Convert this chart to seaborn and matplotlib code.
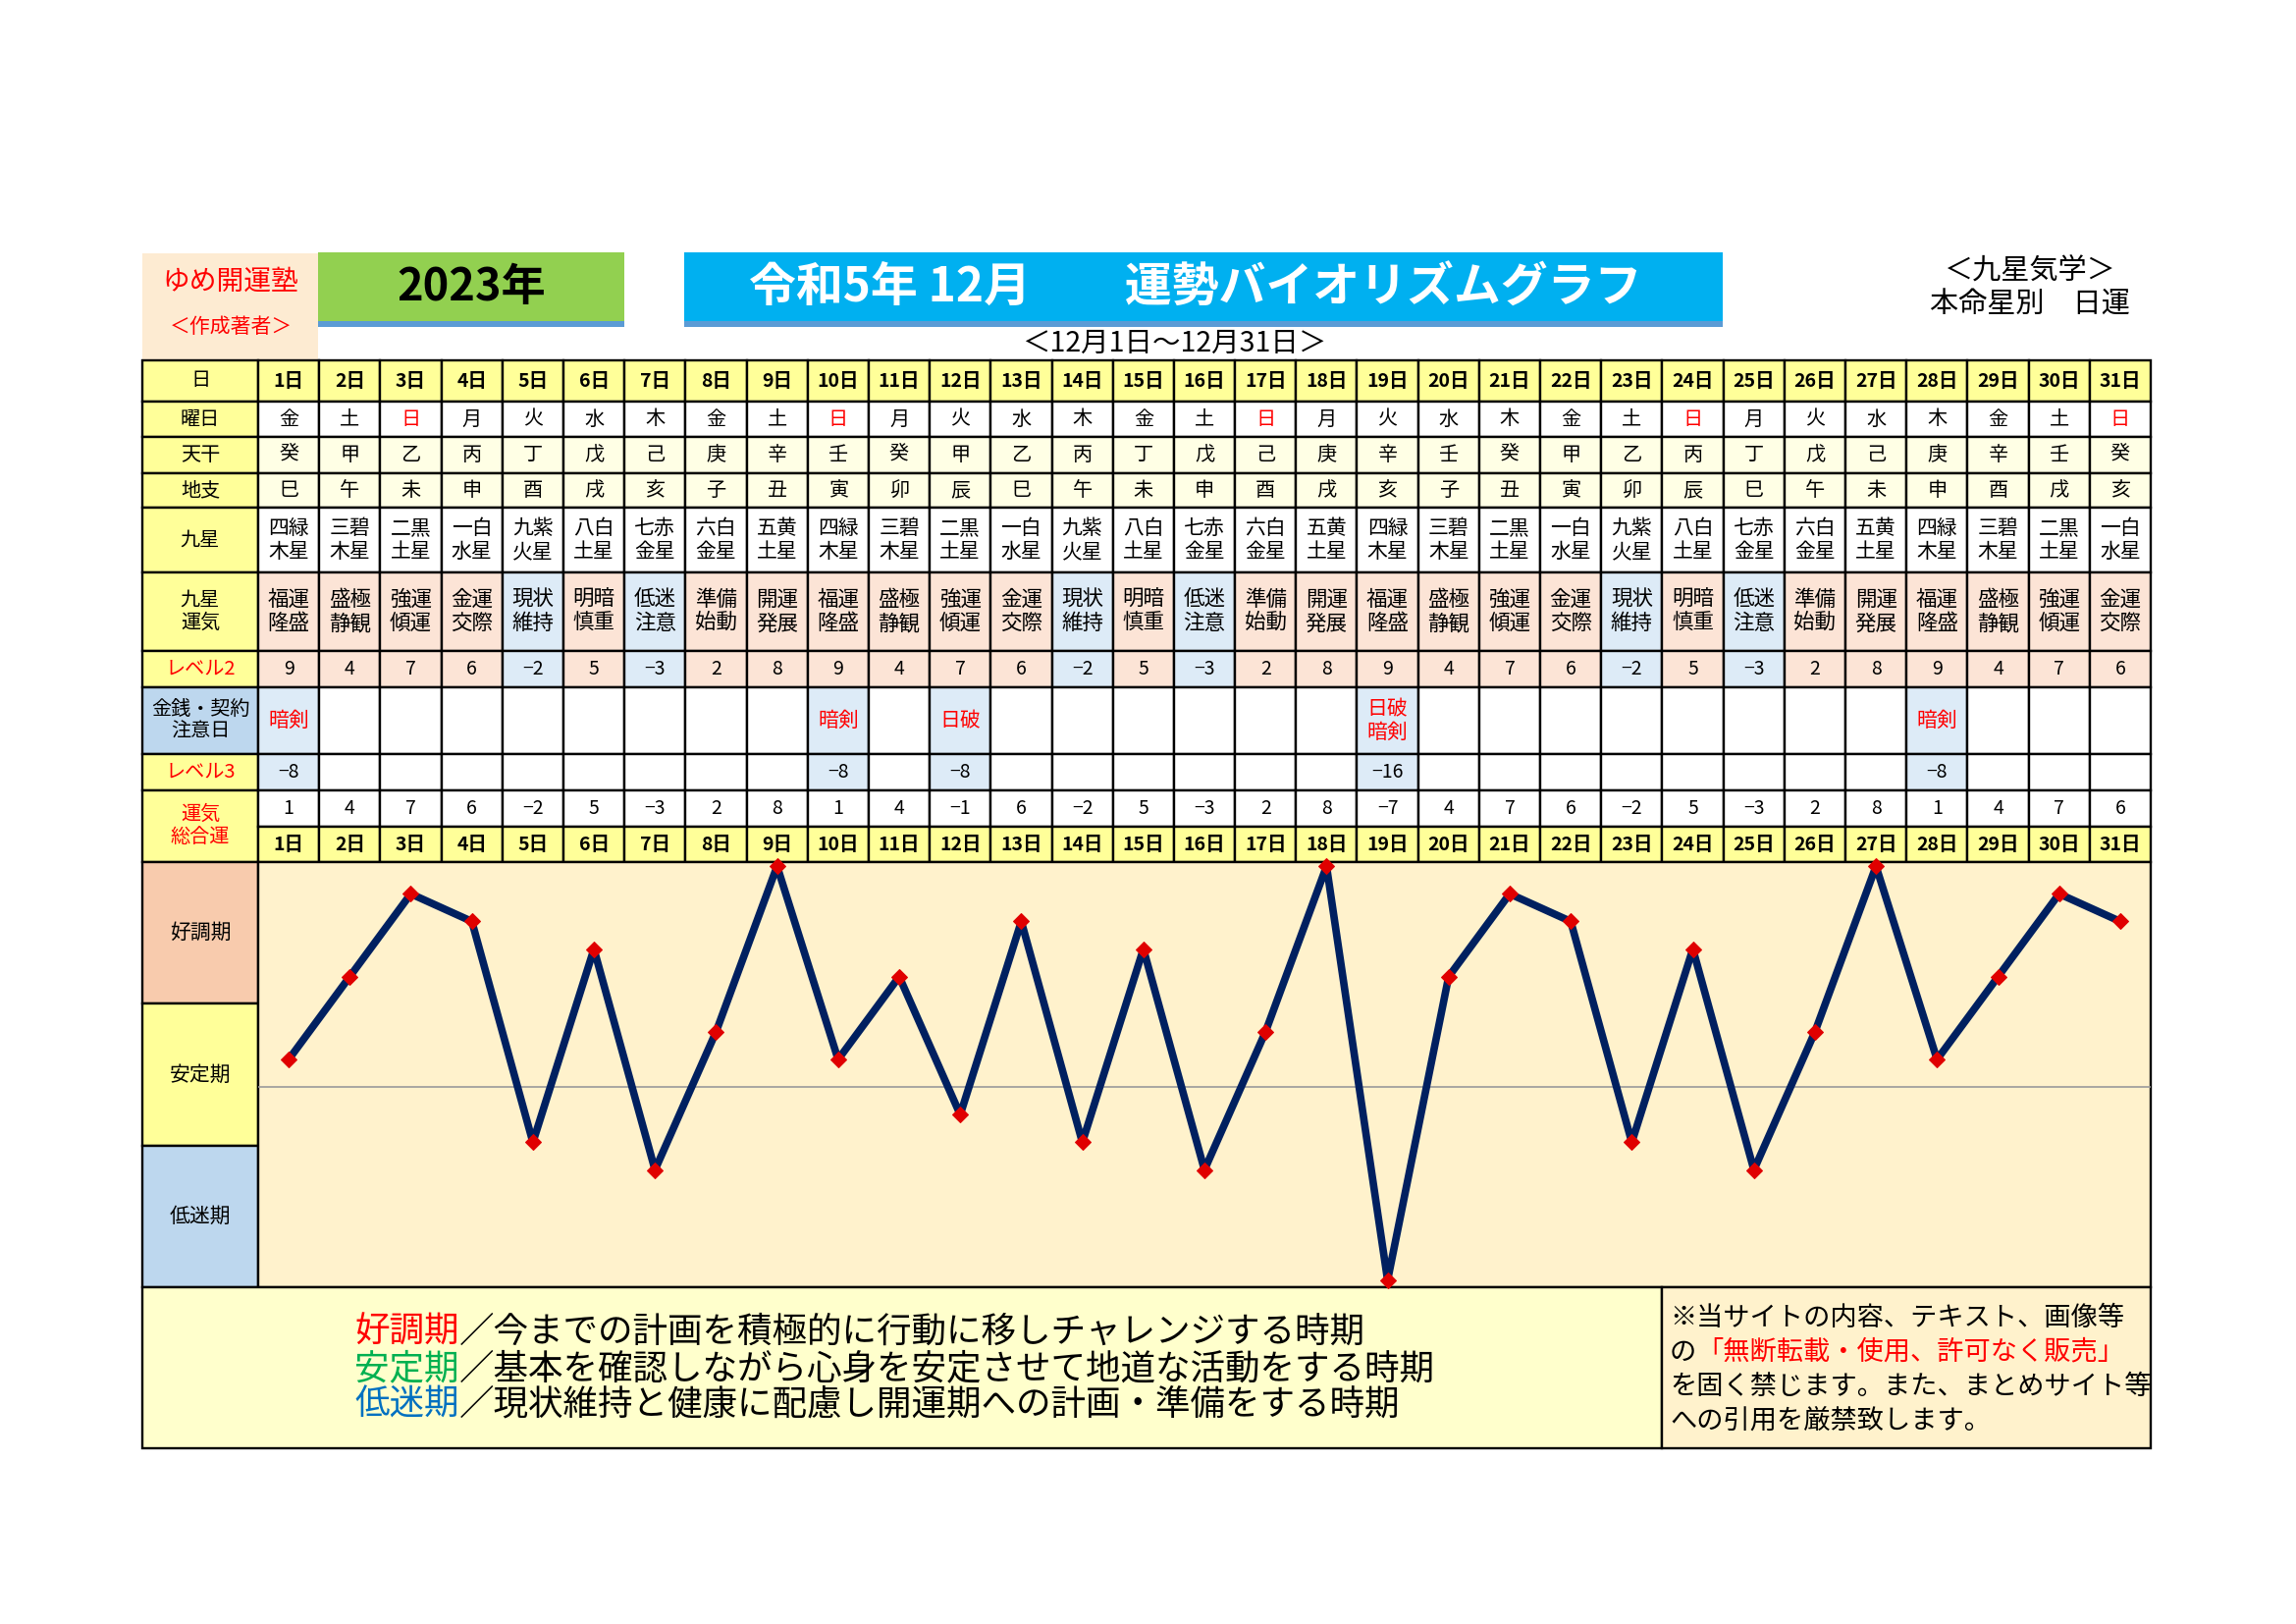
import matplotlib
matplotlib.use("Agg")
import matplotlib.pyplot as plt
import seaborn as sns
import pandas as pd
from matplotlib.patches import Rectangle

# ---- data ----
days = list(range(1, 32))
day_labels = [f"{d}日" for d in days]
weekdays = ["金", "土", "日", "月", "火", "水", "木", "金", "土", "日", "月", "火", "水", "木", "金", "土",
            "日", "月", "火", "水", "木", "金", "土", "日", "月", "火", "水", "木", "金", "土", "日"]
tenkan = ["癸", "甲", "乙", "丙", "丁", "戊", "己", "庚", "辛", "壬", "癸", "甲", "乙", "丙", "丁", "戊",
          "己", "庚", "辛", "壬", "癸", "甲", "乙", "丙", "丁", "戊", "己", "庚", "辛", "壬", "癸"]
chishi = ["巳", "午", "未", "申", "酉", "戌", "亥", "子", "丑", "寅", "卯", "辰", "巳", "午", "未", "申",
          "酉", "戌", "亥", "子", "丑", "寅", "卯", "辰", "巳", "午", "未", "申", "酉", "戌", "亥"]
kyusei = ["四緑\n木星", "三碧\n木星", "二黒\n土星", "一白\n水星", "九紫\n火星", "八白\n土星", "七赤\n金星",
          "六白\n金星", "五黄\n土星", "四緑\n木星", "三碧\n木星", "二黒\n土星", "一白\n水星", "九紫\n火星",
          "八白\n土星", "七赤\n金星", "六白\n金星", "五黄\n土星", "四緑\n木星", "三碧\n木星", "二黒\n土星",
          "一白\n水星", "九紫\n火星", "八白\n土星", "七赤\n金星", "六白\n金星", "五黄\n土星", "四緑\n木星",
          "三碧\n木星", "二黒\n土星", "一白\n水星"]
unki = ["福運\n隆盛", "盛極\n静観", "強運\n傾運", "金運\n交際", "現状\n維持", "明暗\n慎重", "低迷\n注意",
        "準備\n始動", "開運\n発展", "福運\n隆盛", "盛極\n静観", "強運\n傾運", "金運\n交際", "現状\n維持",
        "明暗\n慎重", "低迷\n注意", "準備\n始動", "開運\n発展", "福運\n隆盛", "盛極\n静観", "強運\n傾運",
        "金運\n交際", "現状\n維持", "明暗\n慎重", "低迷\n注意", "準備\n始動", "開運\n発展", "福運\n隆盛",
        "盛極\n静観", "強運\n傾運", "金運\n交際"]
level2 = [9, 4, 7, 6, -2, 5, -3, 2, 8, 9, 4, 7, 6, -2, 5, -3, 2, 8,
          9, 4, 7, 6, -2, 5, -3, 2, 8, 9, 4, 7, 6]
caution_days = [1, 10, 12, 19, 28]
caution_text = ["暗剣", "暗剣", "日破", "日破\n暗剣", "暗剣"]
level3 = [-8, -8, -8, -16, -8]
total = [1, 4, 7, 6, -2, 5, -3, 2, 8, 1, 4, -1, 6, -2, 5, -3, 2, 8,
         -7, 4, 7, 6, -2, 5, -3, 2, 8, 1, 4, 7, 6]

sns.set_style("white")
plt.rcParams["font.family"] = ["Noto Sans CJK JP", "DejaVu Sans"]

W, H = 2339, 1654
fig = plt.figure(figsize=(W / 100, H / 100), dpi=100)
bg = fig.add_axes([0, 0, 1, 1])
bg.set_xlim(0, W)
bg.set_ylim(H, 0)
bg.axis("off")

YELLOW = "#FFFF99"
PALE = "#FFFFE5"
PEACH = "#FCE4D6"
LBLUE = "#DDEBF7"
RED = "#FF0000"


def box(x0, y0, x1, y1, fc, ec="black", lw=1.7):
    bg.add_patch(Rectangle((x0, y0), x1 - x0, y1 - y0, facecolor=fc, edgecolor=ec, linewidth=lw))


def txt(x, y, s, size, color="black", weight="normal", ha="center", ls=1.0):
    return bg.text(x, y, s, fontsize=size, color=color, fontweight=weight, ha=ha, va="center",
                   linespacing=ls)


def fmt(v):
    return str(v).replace("-", "\u2212")


# ---- header ----
box(145, 258, 324, 367, "#FDEBD2", ec="none")
txt(235, 287, "ゆめ開運塾", 20, RED)
txt(235, 333, "＜作成著者＞", 15, RED)

box(324, 257, 636, 327, "#92D050", ec="none")
box(324, 327, 636, 333, "#5B9BD5", ec="none")
txt(480, 293, "2023年", 32.5, weight="bold")

box(697, 257, 1755, 327, "#00B0F0", ec="none")
box(697, 327, 1755, 333, "#5B9BD5", ec="none")
txt(1218, 293, "令和5年 12月　　運勢バイオリズムグラフ", 34.5, "white", weight="bold")
txt(1196, 350, "＜12月1日～12月31日＞", 20.5)
txt(2068, 277, "＜九星気学＞", 21)
txt(2068, 311, "本命星別　日運", 21)

# ---- table ----
X0, XL, XE = 145, 263, 2191
cw = (XE - XL) / 31
LC = (X0 + XL) / 2

rows = {"hdr": (367, 409), "wd": (409, 445), "tk": (445, 482), "cs": (482, 517),
        "ks": (517, 583), "uk": (583, 663), "l2": (663, 700), "cau": (700, 768),
        "l3": (768, 805), "tot": (805, 842), "dh": (842, 878)}

row_labels = [("hdr", "日", "black", YELLOW), ("wd", "曜日", "black", YELLOW),
              ("tk", "天干", "black", YELLOW), ("cs", "地支", "black", YELLOW),
              ("ks", "九星", "black", YELLOW), ("uk", "九星\n運気", "black", YELLOW),
              ("l2", "レベル2", RED, YELLOW), ("cau", "金銭・契約\n注意日", "black", "#BDD7EE"),
              ("l3", "レベル3", RED, YELLOW)]
for key, s, c, fc in row_labels:
    y0, y1 = rows[key]
    box(X0, y0, XL, y1, fc)
    txt(LC, (y0 + y1) / 2, s, 14.5, c, ls=1.1)
box(X0, 805, XL, 878, YELLOW)
txt(LC, 841, "運気\n総合運", 14.5, RED, ls=1.1)

for i, d in enumerate(days):
    x0 = XL + i * cw
    x1 = x0 + cw
    xc = (x0 + x1) / 2
    neg = level2[i] < 0
    cell_c = LBLUE if neg else PEACH

    y0, y1 = rows["hdr"]
    box(x0, y0, x1, y1, YELLOW)
    txt(xc, (y0 + y1) / 2, day_labels[i], 14, weight="bold")

    y0, y1 = rows["wd"]
    box(x0, y0, x1, y1, "white")
    txt(xc, (y0 + y1) / 2, weekdays[i], 14.5, RED if weekdays[i] == "日" else "black")

    y0, y1 = rows["tk"]
    box(x0, y0, x1, y1, PALE)
    txt(xc, (y0 + y1) / 2, tenkan[i], 14.5)

    y0, y1 = rows["cs"]
    box(x0, y0, x1, y1, PALE)
    txt(xc, (y0 + y1) / 2, chishi[i], 14.5)

    y0, y1 = rows["ks"]
    box(x0, y0, x1, y1, "white")
    txt(xc, (y0 + y1) / 2, kyusei[i], 15, ls=1.12)

    y0, y1 = rows["uk"]
    box(x0, y0, x1, y1, cell_c)
    txt(xc, (y0 + y1) / 2, unki[i], 15.5, ls=1.15)

    y0, y1 = rows["l2"]
    box(x0, y0, x1, y1, cell_c)
    txt(xc, (y0 + y1) / 2, fmt(level2[i]), 14)

    hit = d in caution_days
    y0, y1 = rows["cau"]
    box(x0, y0, x1, y1, LBLUE if hit else "white")
    y0b, y1b = rows["l3"]
    box(x0, y0b, x1, y1b, LBLUE if hit else "white")
    if hit:
        k = caution_days.index(d)
        txt(xc, (y0 + y1) / 2, caution_text[k], 15, RED, ls=1.08)
        txt(xc, (y0b + y1b) / 2, fmt(level3[k]), 14)

    y0, y1 = rows["tot"]
    box(x0, y0, x1, y1, "white")
    txt(xc, (y0 + y1) / 2, fmt(total[i]), 14)

    y0, y1 = rows["dh"]
    box(x0, y0, x1, y1, YELLOW)
    txt(xc, (y0 + y1) / 2, day_labels[i], 14, weight="bold")

# ---- chart frame ----
CY0, CY1 = 878, 1311
band = (CY1 - CY0) / 3
for j, (s, fc) in enumerate([("好調期", "#F8CBAD"), ("安定期", YELLOW), ("低迷期", "#BDD7EE")]):
    box(X0, CY0 + j * band, XL, CY0 + (j + 1) * band, fc)
    txt(LC, CY0 + (j + 0.5) * band, s, 15)
box(XL, CY0, XE, CY1, "#FFF2CC")

ch = fig.add_axes([XL / W, 1 - CY1 / H, (XE - XL) / W, (CY1 - CY0) / H])
ch.patch.set_visible(False)
df = pd.DataFrame({"day": days, "total": total})
ch.axhline(0, color="#9A9A9A", lw=1.2, zorder=0)
sns.lineplot(data=df, x="day", y="total", ax=ch, color="#002060", linewidth=5.5,
             marker="D", markersize=8, markerfacecolor="#E00000", markeredgecolor="#E00000",
             clip_on=False, zorder=3)
ch.set_xlim(0.5, 31.5)
ch.set_ylim(-7.25, 8.15)
ch.axis("off")

# ---- notes ----
NY0, NY1 = 1311, 1475
box(X0, NY0, 1693, NY1, "#FFFFCC")
box(1693, NY0, XE, NY1, "#FFF2CC")

fig.canvas.draw()
rend = fig.canvas.get_renderer()


def run(x, y, parts, size):
    for s, c in parts:
        t = bg.text(x, y, s, fontsize=size, color=c, ha="left", va="center")
        x += t.get_window_extent(renderer=rend).width


run(361, 1357, [("好調期", RED), ("／今までの計画を積極的に行動に移しチャレンジする時期", "black")], 25.6)
run(361, 1394, [("安定期", "#00B050"), ("／基本を確認しながら心身を安定させて地道な活動をする時期", "black")], 25.6)
run(361, 1431, [("低迷期", "#0070C0"), ("／現状維持と健康に配慮し開運期への計画・準備をする時期", "black")], 25.6)

run(1701, 1342, [("※当サイトの内容、テキスト、画像等", "black")], 19.6)
run(1701, 1377, [("の", "black"), ("「無断転載・使用、許可なく販売」", RED)], 19.6)
run(1701, 1412, [("を固く禁じます。また、まとめサイト等", "black")], 19.6)
run(1701, 1447, [("への引用を厳禁致します。", "black")], 19.6)

fig.savefig("out.png", dpi=100)
